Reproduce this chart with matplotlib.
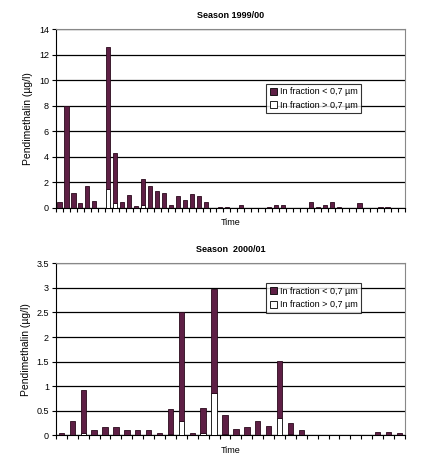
import numpy as np
import matplotlib
matplotlib.use('Agg')
import matplotlib.pyplot as plt
from matplotlib.patches import Patch

plt.rcParams['font.family'] = ['Liberation Sans', 'DejaVu Sans']

# Season 1999/00: total and the part in fraction > 0.7 um
total_99 = [0.5, 8.0, 1.2, 0.35, 1.75, 0.55, 0, 12.6, 4.3, 0.5,
            1.05, 0.15, 2.3, 1.7, 1.35, 1.2, 0.25, 0.9, 0.6, 1.1,
            0.9, 0.5, 0, 0.05, 0.05, 0, 0.2, 0, 0, 0,
            0.05, 0.25, 0.2, 0, 0, 0, 0.5, 0.05, 0.2, 0.5,
            0.05, 0, 0, 0.35, 0, 0.03, 0.05, 0.05, 0, 0]
big_99 = [0] * 50
big_99[7] = 1.5
big_99[8] = 0.35
big_99[12] = 0.2

# Season 2000/01
total_00 = [0.05, 0.3, 0.92, 0.1, 0.17, 0.17, 0.1, 0.1, 0.1, 0.05,
            0.53, 2.5, 0.05, 0.55, 2.97, 0.42, 0.12, 0.16, 0.3, 0.18,
            1.52, 0.25, 0.1, 0, 0.01, 0.01, 0, 0.01, 0.01, 0.07,
            0.07, 0.05]
big_00 = [0, 0, 0.05, 0, 0, 0, 0, 0, 0, 0,
          0.03, 0.3, 0, 0.05, 0.87, 0.03, 0, 0, 0, 0,
          0.36, 0.03, 0, 0, 0, 0, 0, 0, 0, 0,
          0, 0]

purple = '#5e1f45'
legend_labels = ['In fraction < 0,7 µm', 'In fraction > 0,7 µm']

fig = plt.figure(figsize=(4.24, 4.55), dpi=100)
ax1 = fig.add_axes([0.132, 0.543, 0.823, 0.393])
ax2 = fig.add_axes([0.132, 0.0433, 0.823, 0.378])


def draw(ax, total, big, ymax, ystep, width, title, legend_y):
    total = np.array(total)
    big = np.array(big)
    x = np.arange(len(total))
    ax.bar(x, big, width, color='white', edgecolor='black', linewidth=0.6,
           zorder=3)
    ax.bar(x, total - big, width, bottom=big, color=purple,
           edgecolor='#2a0a1c', linewidth=0.6, zorder=3)
    ax.set_xlim(-0.5, len(total) - 0.5)
    ax.set_ylim(0, ymax)
    ticks = np.arange(0, ymax + ystep / 2, ystep)
    ax.set_yticks(ticks)
    ax.set_yticklabels(['%g' % t for t in ticks])
    ax.yaxis.grid(True, color='black', linewidth=0.9, zorder=0)
    ax.set_xticks(np.arange(len(total) + 1) - 0.5)
    ax.set_xticklabels([])
    ax.tick_params(axis='x', length=3, width=0.8, direction='out')
    ax.tick_params(axis='y', length=3, width=0.8, labelsize=6.5, pad=2)
    for s in ['top', 'right']:
        ax.spines[s].set_color('#888888')
    for s in ['left', 'bottom']:
        ax.spines[s].set_color('black')
    ax.set_title(title, fontsize=6.5, fontweight='bold', pad=8)
    ax.set_xlabel('Time', fontsize=6.5, labelpad=1)
    ax.set_ylabel('Pendimethalin (µg/l)', fontsize=7.5, labelpad=4)
    handles = [Patch(facecolor=purple, edgecolor='black', linewidth=0.6),
               Patch(facecolor='white', edgecolor='black', linewidth=0.6)]
    leg = ax.legend(handles, legend_labels, loc='upper left',
                    bbox_to_anchor=(0.59, legend_y), fontsize=6.5,
                    frameon=True, fancybox=False, edgecolor='black',
                    handlelength=0.8, handleheight=0.8, handletextpad=0.3,
                    borderpad=0.4, labelspacing=0.5)
    leg.get_frame().set_linewidth(0.8)


draw(ax1, total_99, big_99, 14, 2, 0.6, 'Season 1999/00', 0.72)
draw(ax2, total_00, big_00, 3.5, 0.5, 0.5, 'Season  2000/01', 0.91)

fig.savefig('out.png', dpi=100)
